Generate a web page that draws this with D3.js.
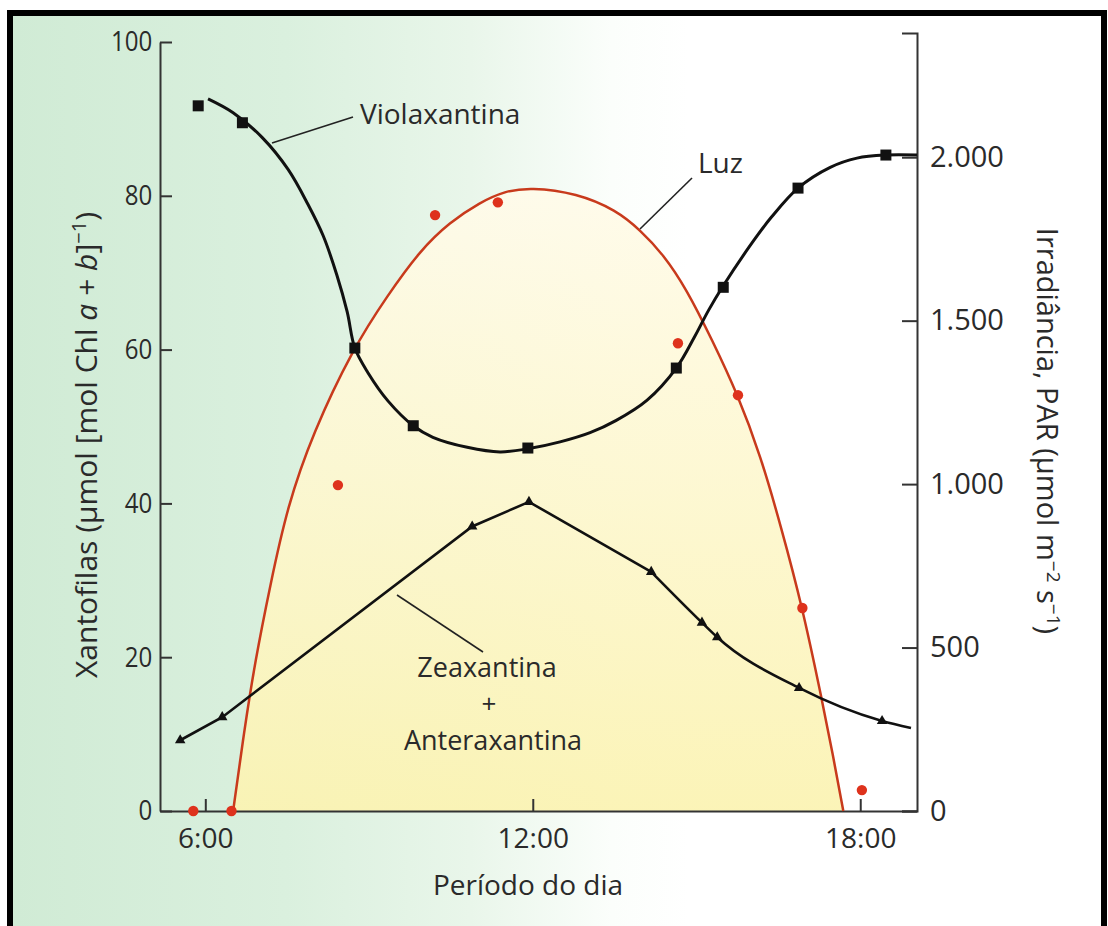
<!DOCTYPE html>
<html>
<head>
<meta charset="utf-8">
<script src="https://cdn.jsdelivr.net/npm/d3@7"></script>
<style>
  html, body { margin: 0; padding: 0; background: #ffffff; }
  svg { display: block; }
  text { font-family: "Open Sans", "Noto Sans", sans-serif; fill: #2a2a2a; }
</style>
</head>
<body>
<svg id="chart" width="1108" height="926"></svg>
<script>
// ---------------- data ----------------
// Luz (irradiance, PAR) – fitted curve
const luzCurveHours  = [6.51, 6.71, 6.91, 7.19, 7.50, 7.97, 8.71, 9.33, 9.94, 10.48, 11.03, 11.49, 11.95,
                        12.81, 13.53, 13.97, 14.39, 14.81, 15.29, 15.76, 16.17, 16.55, 16.94, 17.30, 17.50, 17.69];
const luzCurveValues = [0, 242, 456, 691, 930, 1156, 1416, 1575, 1716, 1801, 1862, 1896, 1908,
                        1890, 1838, 1777, 1703, 1599, 1440, 1272, 1089, 869, 624, 339, 171, 0];
// Luz – measured points (red dots)
const luzDotHours  = [5.78, 6.48, 8.43, 10.21, 11.36, 14.66, 15.76, 16.94, 18.03];
const luzDotValues = [0, 0, 997, 1823, 1862, 1431, 1272, 621, 64];

// Violaxantina – measured points (squares)
const violaHours  = [5.87, 6.68, 8.74, 9.81, 11.91, 14.63, 15.49, 16.86, 18.47];
const violaValues = [91.7, 89.5, 60.2, 50.1, 47.2, 57.6, 68.1, 81.0, 85.3];
// Violaxantina – fitted curve
const violaCurveHours  = [6.05, 6.51, 7.04, 7.52, 7.88, 8.16, 8.41, 8.60, 8.74, 8.98, 9.35, 9.81, 10.17, 10.80, 11.40, 11.91,
                          12.50, 13.05, 13.53, 14.09, 14.63, 14.96, 15.22, 15.49, 16.02, 16.37, 16.86, 17.45, 17.94, 18.47, 19.04];
const violaCurveValues = [92.6, 90.8, 87.6, 83.4, 78.9, 74.8, 69.7, 64.9, 60.2, 57.0, 53.3, 50.1, 48.6, 47.3, 46.7, 47.1,
                          48.0, 49.2, 50.8, 53.4, 57.6, 61.6, 65.1, 68.3, 73.9, 77.2, 81.0, 83.7, 84.9, 85.3, 85.3];

// Zeaxantina + Anteraxantina – measured points (triangles)
const zeaxHours  = [5.54, 6.31, 10.89, 11.93, 14.17, 15.10, 15.38, 16.88, 18.40];
const zeaxValues = [9.2, 12.2, 37.0, 40.2, 31.1, 24.5, 22.6, 16.0, 11.7];
const zeaxLineEnd = [18.93, 10.8];

// axes
const xDomain = [5.17, 19.04];
const xTickHours  = [6, 12, 18];
const xTickLabels = ["6:00", "12:00", "18:00"];
const leftTicks   = [0, 20, 40, 60, 80, 100];
const rightTicks  = [0, 500, 1000, 1500, 2000];
const rightTickLabels = ["0", "500", "1.000", "1.500", "2.000"];
const rightAxisTop = 2380;

// ---------------- drawing ----------------
const svg = d3.select("#chart");
const defs = svg.append("defs");

const bg = defs.append("linearGradient").attr("id", "bgGrad").attr("x1", "0").attr("x2", "1").attr("y1", "0").attr("y2", "0");
bg.append("stop").attr("offset", "0%").attr("stop-color", "#d0ebd5");
bg.append("stop").attr("offset", "25%").attr("stop-color", "#daf0de");
bg.append("stop").attr("offset", "42%").attr("stop-color", "#e9f6ea");
bg.append("stop").attr("offset", "55%").attr("stop-color", "#fbfefb");
bg.append("stop").attr("offset", "62%").attr("stop-color", "#ffffff");

const yel = defs.append("linearGradient").attr("id", "yelGrad").attr("x1", "0").attr("x2", "0").attr("y1", "0").attr("y2", "1");
yel.append("stop").attr("offset", "0%").attr("stop-color", "#fffbea");
yel.append("stop").attr("offset", "100%").attr("stop-color", "#fbf3b2");

// page background inside the frame
svg.append("rect").attr("x", 13).attr("y", 16).attr("width", 1089).attr("height", 910).attr("fill", "url(#bgGrad)");

const x  = d3.scaleLinear().domain(xDomain).range([160, 917]);
const yL = d3.scaleLinear().domain([0, 100]).range([811, 42]);
const yR = d3.scaleLinear().domain([0, rightAxisTop]).range([811, 33]);

const smooth = d3.curveCatmullRom.alpha(0.5);

// light area
const luz = luzCurveHours.map((h, i) => [h, luzCurveValues[i]]);
svg.append("path")
  .datum(luz)
  .attr("d", d3.area().x(d => x(d[0])).y0(yR(0)).y1(d => yR(d[1])).curve(d3.curveBasis))
  .attr("fill", "url(#yelGrad)").attr("opacity", 0.93);

// axes
const gL = svg.append("g").attr("transform", `translate(${x(xDomain[0])},0)`)
  .call(d3.axisLeft(yL).tickValues(leftTicks).tickSizeInner(-12).tickSizeOuter(0).tickPadding(9));
gL.selectAll("text").attr("transform", "scale(0.86,1)").style("font-size", "28px").attr("fill", "#2a2a2a");

const gR = svg.append("g").attr("transform", `translate(${x(xDomain[1])},0)`)
  .call(d3.axisRight(yR).tickValues(rightTicks).tickSizeInner(-15).tickSizeOuter(-15).tickPadding(13)
        .tickFormat((d, i) => rightTickLabels[i]));
gR.selectAll("text").style("font-size", "29px").attr("fill", "#2a2a2a");

const gB = svg.append("g").attr("transform", `translate(0,${yL(0)})`)
  .call(d3.axisBottom(x).tickValues(xTickHours).tickSizeInner(-12).tickSizeOuter(0).tickPadding(17)
        .tickFormat((d, i) => xTickLabels[i]));
gB.selectAll("text").style("font-size", "28px").attr("fill", "#2a2a2a");

[gL, gR, gB].forEach(g => {
  g.select(".domain").attr("stroke", "#333").attr("stroke-width", 2);
  g.selectAll(".tick line").attr("stroke", "#333").attr("stroke-width", 2);
  g.attr("font-family", null);
});

// Luz curve
svg.append("path").datum(luz)
  .attr("d", d3.line().x(d => x(d[0])).y(d => yR(d[1])).curve(d3.curveBasis))
  .attr("fill", "none").attr("stroke", "#c83a1c").attr("stroke-width", 2.5);

// Violaxantina curve
const viola = violaCurveHours.map((h, i) => [h, violaCurveValues[i]]);
svg.append("path").datum(viola)
  .attr("d", d3.line().x(d => x(d[0])).y(d => yL(d[1])).curve(smooth))
  .attr("fill", "none").attr("stroke", "#111").attr("stroke-width", 3);

// Zeaxantina line
const zeax = zeaxHours.map((h, i) => [h, zeaxValues[i]]);
svg.append("path").datum(zeax.slice(0, 5))
  .attr("d", d3.line().x(d => x(d[0])).y(d => yL(d[1])))
  .attr("fill", "none").attr("stroke", "#111").attr("stroke-width", 2.6);
svg.append("path").datum(zeax.slice(4).concat([zeaxLineEnd]))
  .attr("d", d3.line().x(d => x(d[0])).y(d => yL(d[1])).curve(d3.curveMonotoneX))
  .attr("fill", "none").attr("stroke", "#111").attr("stroke-width", 2.6);

// markers
svg.selectAll(".sq").data(violaHours.map((h, i) => [h, violaValues[i]])).join("rect")
  .attr("x", d => x(d[0]) - 5.5).attr("y", d => yL(d[1]) - 5.5)
  .attr("width", 11).attr("height", 11).attr("fill", "#111");

svg.selectAll(".tri").data(zeax).join("path")
  .attr("transform", d => `translate(${x(d[0])},${yL(d[1])})`)
  .attr("d", d3.symbol(d3.symbolTriangle, 48))
  .attr("fill", "#111");

svg.selectAll(".dot").data(luzDotHours.map((h, i) => [h, luzDotValues[i]])).join("circle")
  .attr("cx", d => x(d[0])).attr("cy", d => yR(d[1])).attr("r", 5.2)
  .attr("fill", "#de321c");

// annotations
const ann = svg.append("g");
ann.append("line").attr("x1", 272).attr("y1", 143).attr("x2", 353).attr("y2", 117).attr("stroke", "#222").attr("stroke-width", 1.6);
ann.append("text").attr("x", 360).attr("y", 124).style("font-size", "28px").text("Violaxantina");

ann.append("line").attr("x1", 640).attr("y1", 229).attr("x2", 692).attr("y2", 178).attr("stroke", "#222").attr("stroke-width", 1.6);
ann.append("text").attr("x", 698).attr("y", 173).style("font-size", "28px").text("Luz");

ann.append("line").attr("x1", 397).attr("y1", 595).attr("x2", 483).attr("y2", 652).attr("stroke", "#222").attr("stroke-width", 1.6);
ann.append("text").attr("x", 487).attr("y", 677).attr("text-anchor", "middle").style("font-size", "27px").text("Zeaxantina");
ann.append("text").attr("x", 489).attr("y", 713).attr("text-anchor", "middle").style("font-size", "26px").text("+");
ann.append("text").attr("x", 493).attr("y", 750).attr("text-anchor", "middle").style("font-size", "27px").text("Anteraxantina");

// axis titles
svg.append("text").attr("x", 528).attr("y", 895).attr("text-anchor", "middle").style("font-size", "28px").text("Período do dia");

const lt = svg.append("text").attr("transform", "translate(97,445) rotate(-90)").attr("text-anchor", "middle").style("font-size", "30px");
lt.append("tspan").text("Xantofilas (µmol [mol Chl ");
lt.append("tspan").style("font-style", "italic").text("a");
lt.append("tspan").text(" + ");
lt.append("tspan").style("font-style", "italic").text("b");
lt.append("tspan").text("]");
lt.append("tspan").attr("dy", -11).style("font-size", "20px").text("−1");
lt.append("tspan").attr("dy", 11).text(")");

const rt = svg.append("text").attr("transform", "translate(1037,431) rotate(90)").attr("text-anchor", "middle").style("font-size", "29px");
rt.append("tspan").text("Irradiância, PAR (µmol m");
rt.append("tspan").attr("dy", -10).style("font-size", "19px").text("−2");
rt.append("tspan").attr("dy", 10).text(" s");
rt.append("tspan").attr("dy", -10).style("font-size", "19px").text("−1");
rt.append("tspan").attr("dy", 10).text(")");

// frame
svg.append("rect").attr("x", 7).attr("y", 10).attr("width", 6).attr("height", 916).attr("fill", "#000");
svg.append("rect").attr("x", 7).attr("y", 10).attr("width", 1100).attr("height", 6).attr("fill", "#000");
svg.append("rect").attr("x", 1101).attr("y", 10).attr("width", 6).attr("height", 916).attr("fill", "#000");
</script>
</body>
</html>
